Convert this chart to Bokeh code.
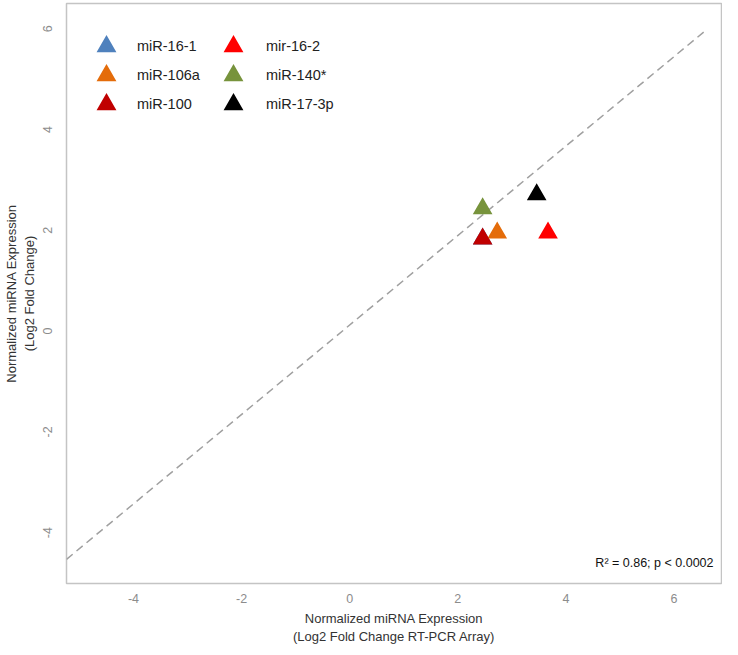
from bokeh.plotting import figure
from bokeh.models import Range1d, Legend, LegendItem, Label, ColumnDataSource
from bokeh.embed import file_html
from bokeh.resources import INLINE

# ---- data ----
mirna = ["miR-16-1", "miR-106a", "miR-100", "mir-16-2", "miR-140*", "miR-17-3p"]
colors = ["#4f81bd", "#e46c0a", "#c00000", "#ff0000", "#77933c", "#000000"]
array_log2fc = [2.46, 2.73, 2.46, 3.67, 2.46, 3.46]   # x: RT-PCR array
norm_log2fc = [1.83, 1.95, 1.83, 1.95, 2.43, 2.71]    # y: normalized expression
fit_x = [-5.24, 6.57]
fit_y = [-4.53, 5.95]
x_ticks = [-4, -2, 0, 2, 4, 6]
x_tick_labels = ["-4", "-2", "0", "2", "4", "6"]
y_ticks = [-4, -2, 0, 2, 4, 6]
y_tick_labels = ["-4", "-2", "0", "2", "4", "6"]
stat_text = "R\u00b2 = 0.86; p < 0.0002"
x_title = "Normalized miRNA Expression\n(Log2 Fold Change RT-PCR Array)"
y_title = "Normalized miRNA Expression\n(Log2 Fold Change)"

FONT = "Liberation Sans"

p = figure(width=722, height=646, output_backend="svg", toolbar_location=None,
           x_range=Range1d(-5.24, 6.88), y_range=Range1d(-5.01, 6.50),
           min_border_left=57, min_border_top=3, min_border_right=1,
           min_border_bottom=60)
p.grid.visible = False
p.outline_line_color = "#c4c4c4"
p.outline_line_width = 1.5
p.background_fill_color = "white"
p.border_fill_color = "white"

p.line(fit_x, fit_y, line_dash="8 5", line_color="#a0a0a0", line_width=1.5)

src = ColumnDataSource(dict(x=array_log2fc, y=norm_log2fc, color=colors, name=mirna))
r = p.scatter("x", "y", source=src, marker="triangle", size=11,
              fill_color="color", line_color="color", line_width=5,
              line_join="miter")

for ax, ticks, labels in ((p.xaxis, x_ticks, x_tick_labels), (p.yaxis, y_ticks, y_tick_labels)):
    ax.ticker = ticks
    ax.major_label_overrides = {t: l for t, l in zip(ticks, labels)}
    ax.axis_line_color = None
    ax.major_tick_line_color = None
    ax.minor_tick_line_color = None
    ax.major_label_text_color = "#8c8c8c"
    ax.major_label_text_font = FONT
    ax.major_label_text_font_size = "12.5px"
    ax.axis_label_text_font = FONT
    ax.axis_label_text_font_size = "13px"
    ax.axis_label_text_font_style = "normal"
    ax.axis_label_text_color = "#333333"

p.xaxis.axis_label = x_title
p.yaxis.axis_label = y_title
p.yaxis.major_label_orientation = "vertical"
p.xaxis.major_label_standoff = 4
p.yaxis.major_label_standoff = 8
p.xaxis.axis_label_standoff = 5
p.yaxis.axis_label_standoff = 4

def make_legend(idx, loc, standoff):
    items = [LegendItem(label=mirna[i], renderers=[r], index=i) for i in idx]
    return Legend(items=items, location=loc, orientation="vertical",
                  glyph_width=28, glyph_height=28, spacing=1, padding=0,
                  margin=0, border_line_color=None, background_fill_alpha=0,
                  label_text_font=FONT, label_text_font_size="14.5px",
                  label_text_color="#222222", label_standoff=standoff)

p.add_layout(make_legend([0, 1, 2], (26, 465), 17))
p.add_layout(make_legend([3, 4, 5], (153, 465), 19))

p.add_layout(Label(x=647, y=21, x_units="screen", y_units="screen", text=stat_text,
                   text_align="right", text_baseline="middle",
                   text_font=FONT, text_font_size="12.5px", text_color="#111111"))

open("out.html", "w").write(file_html(p, INLINE))
